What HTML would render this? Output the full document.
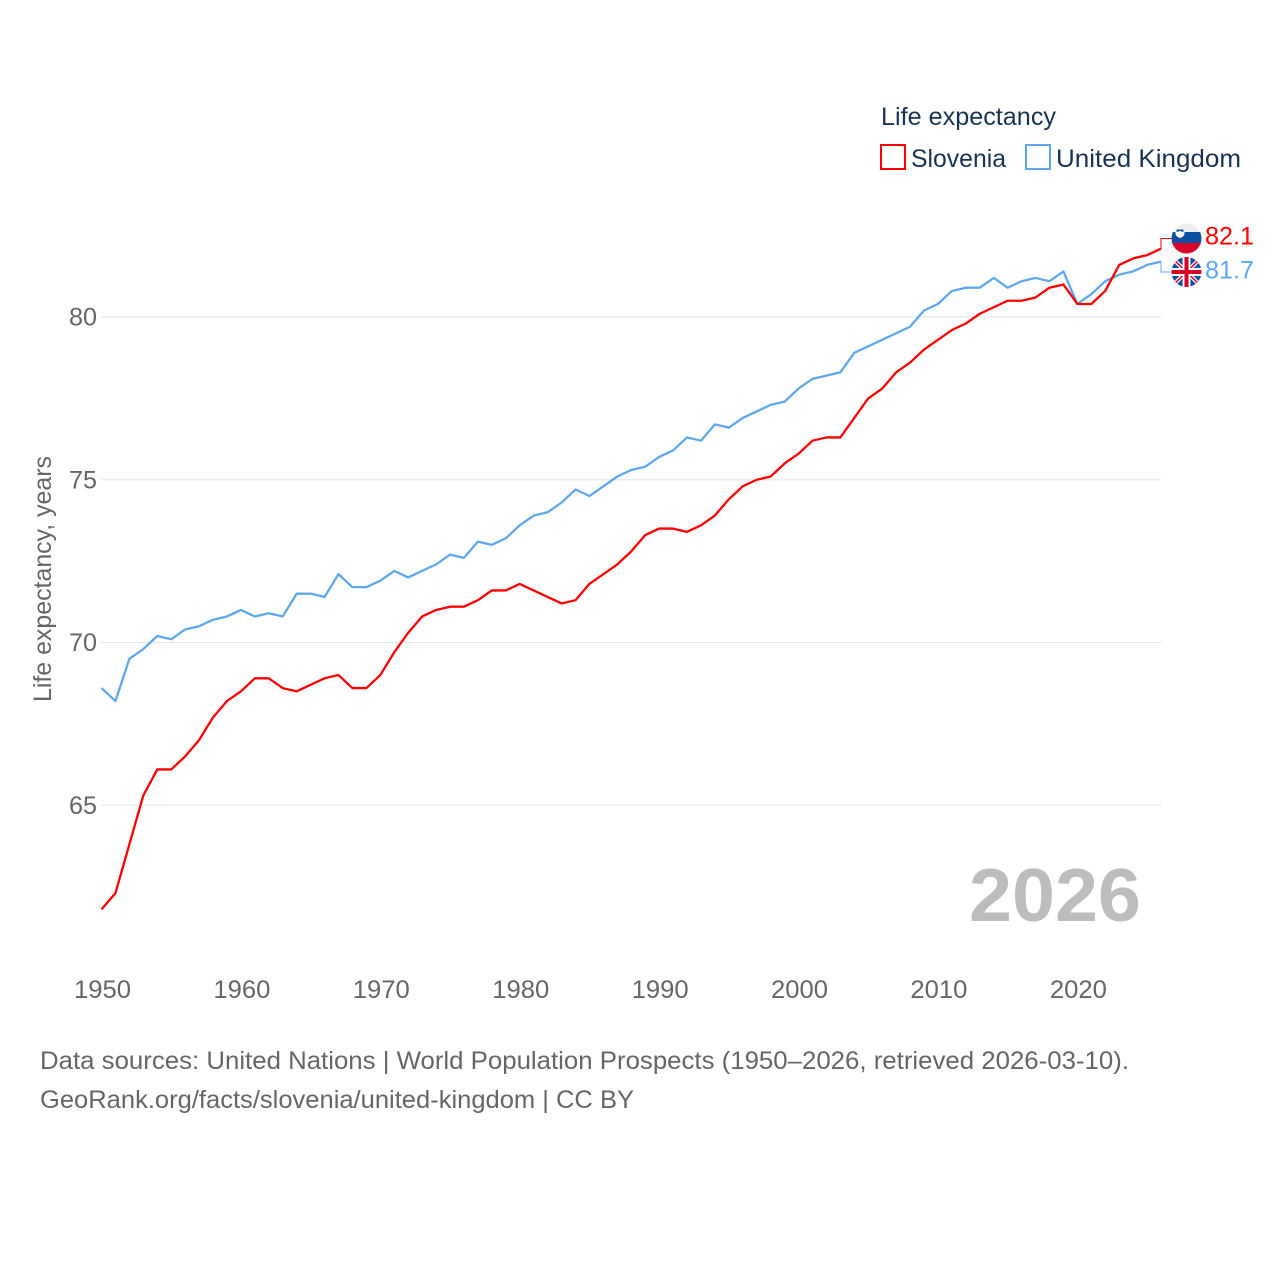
<!DOCTYPE html>
<html lang="en">
<head>
<meta charset="utf-8">
<title>Life expectancy: Slovenia and United Kingdom</title>
<style>
html,body{margin:0;padding:0;background:#fff;}
svg{display:block;font-family:"Liberation Sans",sans-serif;}
.tick{font-size:25px;fill:#666;}
.foot{font-size:25px;fill:#666;}
.leg{font-size:25px;fill:#1b3353;}
</style>
</head>
<body>
<svg id="chart" xmlns="http://www.w3.org/2000/svg" width="1280" height="1280" viewBox="0 0 1280 1280">
  <rect x="0" y="0" width="1280" height="1280" fill="#fff"/>
  <defs>
    <clipPath id="clip-si"><circle cx="1186.5" cy="238.5" r="15"/></clipPath>
    <clipPath id="clip-uk"><circle cx="1186.5" cy="272" r="15"/></clipPath>
  </defs>
  <g id="grid"></g>
  <g id="yticks"></g>
  <g id="xticks"></g>
  <text class="tick" transform="translate(51,702) rotate(-90)" textLength="246" lengthAdjust="spacingAndGlyphs">Life expectancy, years</text>
  <text x="969" y="921" font-size="75" font-weight="700" fill="#bdbdbd" textLength="172" lengthAdjust="spacingAndGlyphs">2026</text>
  <g id="series"></g>

  <g>
    <text class="leg" x="881" y="125" textLength="175" lengthAdjust="spacingAndGlyphs">Life expectancy</text>
    <rect x="881" y="145" width="24" height="24" fill="none" stroke="#ff0000" stroke-width="2"/>
    <text class="leg" x="911" y="167" textLength="95" lengthAdjust="spacingAndGlyphs">Slovenia</text>
    <rect x="1026" y="145" width="24" height="24" fill="none" stroke="#5fa8ee" stroke-width="2"/>
    <text class="leg" x="1056" y="167" textLength="185" lengthAdjust="spacingAndGlyphs">United Kingdom</text>
  </g>

  <g clip-path="url(#clip-si)">
    <rect x="1171" y="223" width="31" height="10" fill="#eeeeee"/>
    <rect x="1171" y="232" width="31" height="12" fill="#0b4ea2"/>
    <rect x="1171" y="243" width="31" height="11" fill="#d9042b"/>
    <path d="M1175.500 229 h9 v4.500 q0 3 -4.500 4.500 q-4.500 -1.500 -4.500 -4.500 z" fill="#ffffff"/>
    <path d="M1176.500 229.500 h7 v2.500 l-3.500 -1 l-3.500 1 z" fill="#0b4ea2"/>
  </g>
  <g clip-path="url(#clip-uk)">
    <rect x="1171" y="257" width="31" height="30" fill="#0a4fa8"/>
    <path d="M1171 257 L1202 287 M1202 257 L1171 287" stroke="#fff" stroke-width="4"/>
    <path d="M1171 257 L1202 287 M1202 257 L1171 287" stroke="#d80027" stroke-width="1.500"/>
    <path d="M1186.500 257 V287 M1171 272 H1202" stroke="#fff" stroke-width="8"/>
    <path d="M1186.500 257 V287 M1171 272 H1202" stroke="#d80027" stroke-width="4"/>
  </g>
  <g id="endlabels"></g>

  <g>
    <text class="foot" x="40" y="1069" textLength="1089" lengthAdjust="spacingAndGlyphs">Data sources: United Nations | World Population Prospects (1950–2026, retrieved 2026-03-10).</text>
    <text class="foot" x="40" y="1108" textLength="594" lengthAdjust="spacingAndGlyphs">GeoRank.org/facts/slovenia/united-kingdom | CC BY</text>
  </g>
</svg>
<script>
const startYear = 1950;
const sloveniaValues = [61.8,62.3,63.8,65.3,66.1,66.1,66.5,67.0,67.7,68.2,68.5,68.9,68.9,68.6,68.5,68.7,68.9,69.0,68.6,68.6,69.0,69.7,70.3,70.8,71.0,71.1,71.1,71.3,71.6,71.6,71.8,71.6,71.4,71.2,71.3,71.8,72.1,72.4,72.8,73.3,73.5,73.5,73.4,73.6,73.9,74.4,74.8,75.0,75.1,75.5,75.8,76.2,76.3,76.3,76.9,77.5,77.8,78.3,78.6,79.0,79.3,79.6,79.8,80.1,80.3,80.5,80.5,80.6,80.9,81.0,80.4,80.4,80.8,81.6,81.8,81.9,82.1];
const ukValues = [68.6,68.2,69.5,69.8,70.2,70.1,70.4,70.5,70.7,70.8,71.0,70.8,70.9,70.8,71.5,71.5,71.4,72.1,71.7,71.7,71.9,72.2,72.0,72.2,72.4,72.7,72.6,73.1,73.0,73.2,73.6,73.9,74.0,74.3,74.7,74.5,74.8,75.1,75.3,75.4,75.7,75.9,76.3,76.2,76.7,76.6,76.9,77.1,77.3,77.4,77.8,78.1,78.2,78.3,78.9,79.1,79.3,79.5,79.7,80.2,80.4,80.8,80.9,80.9,81.2,80.9,81.1,81.2,81.1,81.4,80.4,80.7,81.1,81.3,81.4,81.6,81.7];
const yTickValues = [65,70,75,80];
const xTickValues = [1950,1960,1970,1980,1990,2000,2010,2020];

const NS = 'http://www.w3.org/2000/svg';
const lastYear = startYear + sloveniaValues.length - 1;
function xScale(year){ return 101.5 + (year - 1950) * (1161 - 101.5) / 76; }
function yScale(v){ return 317 + (80 - v) * 32.55; }
function make(tag, attrs, parent, text){
  const el = document.createElementNS(NS, tag);
  for (const k in attrs) el.setAttribute(k, attrs[k]);
  if (text !== undefined) el.textContent = text;
  parent.appendChild(el);
  return el;
}
const gridG = document.getElementById('grid');
const yG = document.getElementById('yticks');
const xG = document.getElementById('xticks');
const seriesG = document.getElementById('series');
const endG = document.getElementById('endlabels');

yTickValues.forEach(function(v){
  const line = make('line', {x1:101.5, x2:1161.5, y1:yScale(v), y2:yScale(v), stroke:'#e9e9e9', 'stroke-width':1.3}, gridG);
  
  
  const t = make('text', {x:97, y:yScale(v) + 8.5, 'text-anchor':'end', class:'tick', textLength:28, lengthAdjust:'spacingAndGlyphs'}, yG, String(v));
  
  
});

xTickValues.forEach(function(y){
  const t = make('text', {x:xScale(y) + 1, y:998, 'text-anchor':'middle', class:'tick', textLength:57, lengthAdjust:'spacingAndGlyphs'}, xG, String(y));
  
  
});

function pointsOf(values){
  return values.map(function(v, i){ return xScale(startYear + i).toFixed(2) + ',' + yScale(v).toFixed(2); }).join(' ');
}

const ukLine = make('polyline', {points:pointsOf(ukValues), fill:'none', stroke:'#5fa8ee', 'stroke-width':2.3, 'stroke-linejoin':'round'}, seriesG);


const siLine = make('polyline', {points:pointsOf(sloveniaValues), fill:'none', stroke:'#ff0000', 'stroke-width':2.3, 'stroke-linejoin':'round'}, seriesG);



const endX = xScale(lastYear);
const siLast = sloveniaValues[sloveniaValues.length - 1];
const ukLast = ukValues[ukValues.length - 1];

const siConn = make('polyline', {points:endX + ',' + yScale(siLast) + ' ' + endX + ',238.5 1172,238.5', fill:'none', stroke:'#ff0000', 'stroke-width':1}, endG);


const ukConn = make('polyline', {points:endX + ',' + yScale(ukLast) + ' ' + endX + ',272 1172,272', fill:'none', stroke:'#5fa8ee', 'stroke-width':1}, endG);



const siLabel = make('text', {x:1205, y:244.5, 'font-size':25, fill:'#ff0000', textLength:49, lengthAdjust:'spacingAndGlyphs'}, endG, siLast.toFixed(1));


const ukLabel = make('text', {x:1205, y:278.5, 'font-size':25, fill:'#5fa8ee', textLength:49, lengthAdjust:'spacingAndGlyphs'}, endG, ukLast.toFixed(1));


</script>
</body>
</html>
